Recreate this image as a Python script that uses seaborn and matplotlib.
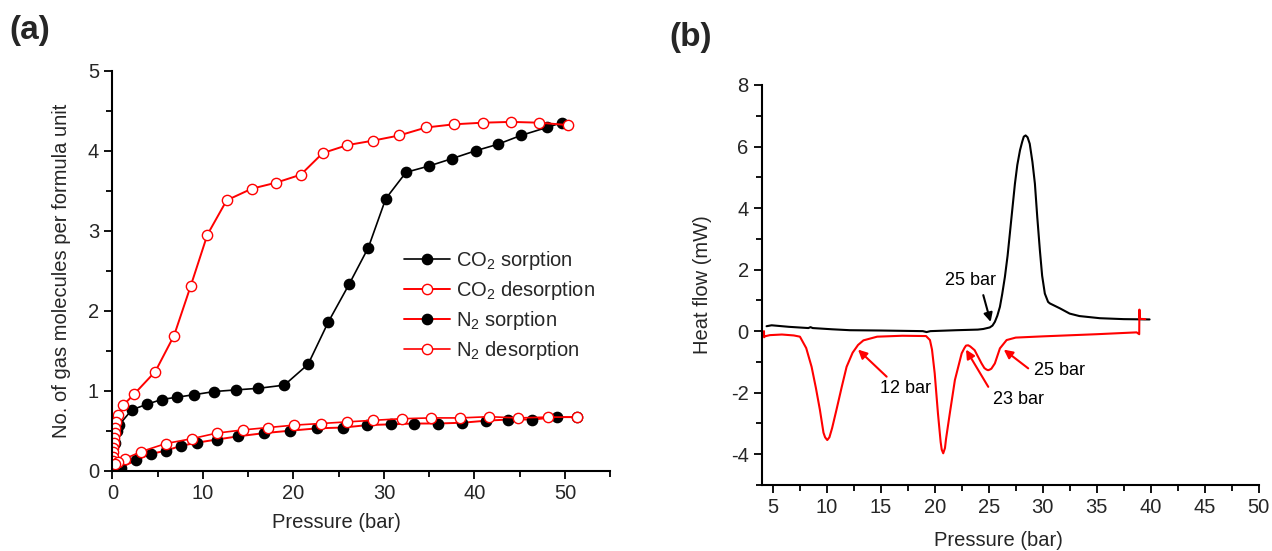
import matplotlib
matplotlib.use("Agg")
import matplotlib.pyplot as plt
import seaborn as sns
import pandas as pd
from matplotlib.ticker import MultipleLocator

# ---------------- data : panel (a) ----------------
co2_sorp_p = [0.05, 0.3, 0.5, 0.74, 2.14, 3.8, 5.45, 7.19, 9.03, 11.27, 13.63, 16.13, 19.0,
              21.62, 23.86, 26.15, 28.28, 30.2, 32.44, 35.02, 37.49, 40.14, 42.57, 45.11,
              47.98, 49.64]
co2_sorp_n = [0.03, 0.35, 0.5, 0.57, 0.76, 0.83, 0.89, 0.92, 0.95, 0.99, 1.01, 1.03, 1.07,
              1.33, 1.86, 2.33, 2.79, 3.40, 3.73, 3.81, 3.90, 4.00, 4.08, 4.19, 4.29, 4.35]

co2_desorp_p = [50.37, 47.17, 44.04, 40.91, 37.74, 34.65, 31.67, 28.76, 25.96, 23.24, 20.81,
                18.08, 15.4, 12.63, 10.5, 8.66, 6.82, 4.75, 2.43, 1.22, 0.67, 0.41, 0.3,
                0.25, 0.2, 0.16, 0.13, 0.1, 0.08, 0.06, 0.05]
co2_desorp_n = [4.32, 4.35, 4.36, 4.35, 4.33, 4.29, 4.19, 4.125, 4.07, 3.97, 3.70, 3.60,
                3.525, 3.38, 2.95, 2.31, 1.69, 1.24, 0.96, 0.82, 0.70, 0.61, 0.53, 0.47,
                0.41, 0.35, 0.29, 0.23, 0.17, 0.12, 0.07]

n2_sorp_p = [0.2, 0.92, 2.62, 4.24, 5.89, 7.55, 9.32, 11.53, 13.92, 16.76, 19.62, 22.65,
             25.52, 28.17, 30.75, 33.36, 36.0, 38.67, 41.25, 43.75, 46.4, 49.16, 51.3]
n2_sorp_n = [0.01, 0.04, 0.13, 0.21, 0.25, 0.31, 0.35, 0.39, 0.43, 0.47, 0.50, 0.53, 0.54,
             0.57, 0.58, 0.59, 0.59, 0.60, 0.625, 0.64, 0.64, 0.67, 0.67]

n2_desorp_p = [51.3, 48.1, 44.85, 41.6, 38.4, 35.2, 31.96, 28.83, 25.89, 23.02, 20.11, 17.24,
               14.4, 11.53, 8.77, 5.93, 3.21, 1.4, 0.67, 0.3]
n2_desorp_n = [0.67, 0.67, 0.66, 0.675, 0.66, 0.66, 0.65, 0.63, 0.61, 0.59, 0.57, 0.54,
               0.51, 0.47, 0.40, 0.34, 0.24, 0.15, 0.11, 0.09]

# ---------------- data : panel (b) ----------------
dsc_sorp_p = [4.43, 4.9, 6.5, 8.3, 8.5, 8.7, 10.5, 12.15, 15.0, 18.9, 19.25, 19.6, 22.0,
              24.0, 24.5, 25.1, 25.35, 25.57, 25.8, 26.04, 26.25, 26.5, 26.75, 26.96, 27.2,
              27.43, 27.65, 27.9, 28.1, 28.25, 28.42, 28.6, 28.8, 29.05, 29.28, 29.5, 29.74,
              29.95, 30.2, 30.5, 30.67, 31.6, 32.5, 33.4, 35.3, 37.5, 39.9]
dsc_sorp_q = [0.16, 0.19, 0.14, 0.10, 0.13, 0.10, 0.06, 0.03, 0.02, 0.00, -0.03, 0.0, 0.03,
              0.05, 0.07, 0.12, 0.18, 0.30, 0.50, 0.79, 1.20, 1.76, 2.45, 3.17, 4.00,
              4.79, 5.40, 5.88, 6.15, 6.32, 6.36, 6.30, 6.09, 5.50, 4.79, 3.70, 2.63,
              1.80, 1.22, 0.95, 0.90, 0.74, 0.57, 0.49, 0.42, 0.39, 0.38]

dsc_desorp_p = [39.5, 38.98, 38.96, 38.94, 38.7, 35.0, 30.0, 27.5, 26.66, 26.04, 25.57,
                25.25, 25.1, 24.95, 24.8, 24.6, 24.34, 23.7, 23.3, 23.1, 22.9, 22.75, 22.5,
                21.87, 21.4, 21.05, 20.95, 20.79, 20.65, 20.55, 20.3, 20.0, 19.75, 19.56,
                19.2, 17.0, 14.67, 13.4, 12.9, 12.4, 11.84, 11.4, 10.9, 10.5, 10.25, 10.05,
                9.85, 9.7, 9.37, 9.0, 8.6, 8.1, 7.52, 6.95, 5.85, 4.74, 4.25, 4.2, 4.19]
dsc_desorp_q = [0.39, 0.40, 0.70, -0.10, -0.04, -0.10, -0.17, -0.21, -0.29, -0.56, -1.05,
                -1.22, -1.25, -1.27, -1.25, -1.20, -1.05, -0.62, -0.50, -0.46, -0.47, -0.55,
                -0.72, -1.59, -2.67, -3.5, -3.8, -3.97, -3.85, -3.6, -2.67, -1.37, -0.6,
                -0.29, -0.16, -0.15, -0.18, -0.30, -0.45, -0.70, -1.16, -1.80, -2.56, -3.15,
                -3.45, -3.54, -3.45, -3.3, -2.56, -1.85, -1.16, -0.55, -0.18, -0.14, -0.11,
                -0.13, -0.17, -0.2, 0.0]

legend_labels = ["CO$_2$ sorption", "CO$_2$ desorption", "N$_2$ sorption", "N$_2$ desorption"]
annot_text = ["25 bar", "12 bar", "23 bar", "25 bar"]
annot_text_xy = [(23.35, 1.66), (17.3, -1.88), (27.73, -2.21), (31.6, -1.29)]
annot_tail = [(24.5, 1.17), (15.55, -1.48), (24.96, -1.81), (28.66, -1.21)]
annot_head = [(25.18, 0.30), (12.9, -0.60), (22.9, -0.60), (26.4, -0.60)]
annot_color = ["black", "red", "red", "red"]

# ---------------- style ----------------
sns.set_style("ticks")
plt.rcParams["font.family"] = ["Liberation Sans", "DejaVu Sans"]
plt.rcParams["mathtext.fontset"] = "custom"
plt.rcParams["mathtext.rm"] = "Liberation Sans"
plt.rcParams["mathtext.it"] = "Liberation Sans:italic"
plt.rcParams["mathtext.default"] = "regular"
plt.rcParams["axes.unicode_minus"] = False

FS = 14.5
fig = plt.figure(figsize=(12.72, 5.51), dpi=100)
axA = fig.add_axes([0.0883, 0.1457, 0.3915, 0.726])
axB = fig.add_axes([0.599, 0.1198, 0.3905, 0.726])

ms = 7.4
lw = 1.2

def series(ax, x, y, lc, mfc, mec, label, lwid=lw):
    df = pd.DataFrame({"x": x, "y": y})
    sns.lineplot(data=df, x="x", y="y", ax=ax, sort=False, estimator=None,
                 color=lc, lw=lwid, marker="o", markersize=ms,
                 markerfacecolor=mfc, markeredgecolor=mec, markeredgewidth=1.0,
                 label=label)

series(axA, co2_sorp_p, co2_sorp_n, "black", "black", "black", legend_labels[0])
series(axA, co2_desorp_p, co2_desorp_n, "red", "white", "red", legend_labels[1], 1.4)
series(axA, n2_sorp_p, n2_sorp_n, "red", "black", "black", legend_labels[2], 1.4)
series(axA, n2_desorp_p, n2_desorp_n, "red", "white", "red", legend_labels[3])

axA.set_xlim(0, 55)
axA.set_ylim(0, 5)
axA.xaxis.set_major_locator(MultipleLocator(10))
axA.xaxis.set_minor_locator(MultipleLocator(5))
axA.yaxis.set_major_locator(MultipleLocator(1))
axA.yaxis.set_minor_locator(MultipleLocator(0.5))
axA.set_xlabel("Pressure (bar)", fontsize=FS)
axA.set_ylabel("No. of gas molecules per formula unit", fontsize=FS)
axA.xaxis.set_label_coords(0.45, -0.105)
axA.yaxis.set_label_coords(-0.082, 0.5)

leg = axA.legend(loc="upper left", bbox_to_anchor=(0.585, 0.555), frameon=False,
                 fontsize=FS, handlelength=2.3, handletextpad=0.3, labelspacing=0.35,
                 borderaxespad=0, borderpad=0)

# panel (b)
sns.lineplot(x=dsc_sorp_p, y=dsc_sorp_q, ax=axB, sort=False, estimator=None,
             color="black", lw=1.5)
sns.lineplot(x=dsc_desorp_p, y=dsc_desorp_q, ax=axB, sort=False, estimator=None,
             color="red", lw=1.5)
axB.set_xlim(4, 50)
axB.set_ylim(-5, 8)
axB.xaxis.set_major_locator(MultipleLocator(5))
axB.xaxis.set_minor_locator(MultipleLocator(2.5))
axB.yaxis.set_major_locator(MultipleLocator(2))
axB.yaxis.set_minor_locator(MultipleLocator(1))
axB.set_xlabel("Pressure (bar)", fontsize=FS)
axB.set_ylabel("Heat flow (mW)", fontsize=FS)
axB.xaxis.set_label_coords(0.476, -0.115)
axB.yaxis.set_label_coords(-0.1, 0.5)

for t, txy, tail, head, c in zip(annot_text, annot_text_xy, annot_tail, annot_head, annot_color):
    axB.text(txy[0], txy[1], t, ha="center", va="center", fontsize=13, color="black")
    axB.annotate("", xy=head, xytext=tail,
                 arrowprops=dict(arrowstyle="-|>", color=c, lw=1.5, mutation_scale=13,
                                 shrinkA=0, shrinkB=0))

for ax in (axA, axB):
    sns.despine(ax=ax)
    for s in ("left", "bottom"):
        ax.spines[s].set_linewidth(1.5)
        ax.spines[s].set_color("black")
    ax.tick_params(which="major", direction="out", length=6, width=1.3,
                   labelsize=FS, color="black")
    ax.tick_params(which="minor", direction="out", length=4, width=1.3, color="black")

fig.text(0.007, 0.945, "(a)", fontsize=24, fontweight="bold", ha="left", va="center")
fig.text(0.526, 0.932, "(b)", fontsize=24, fontweight="bold", ha="left", va="center")

fig.savefig("out.png", dpi=100)
